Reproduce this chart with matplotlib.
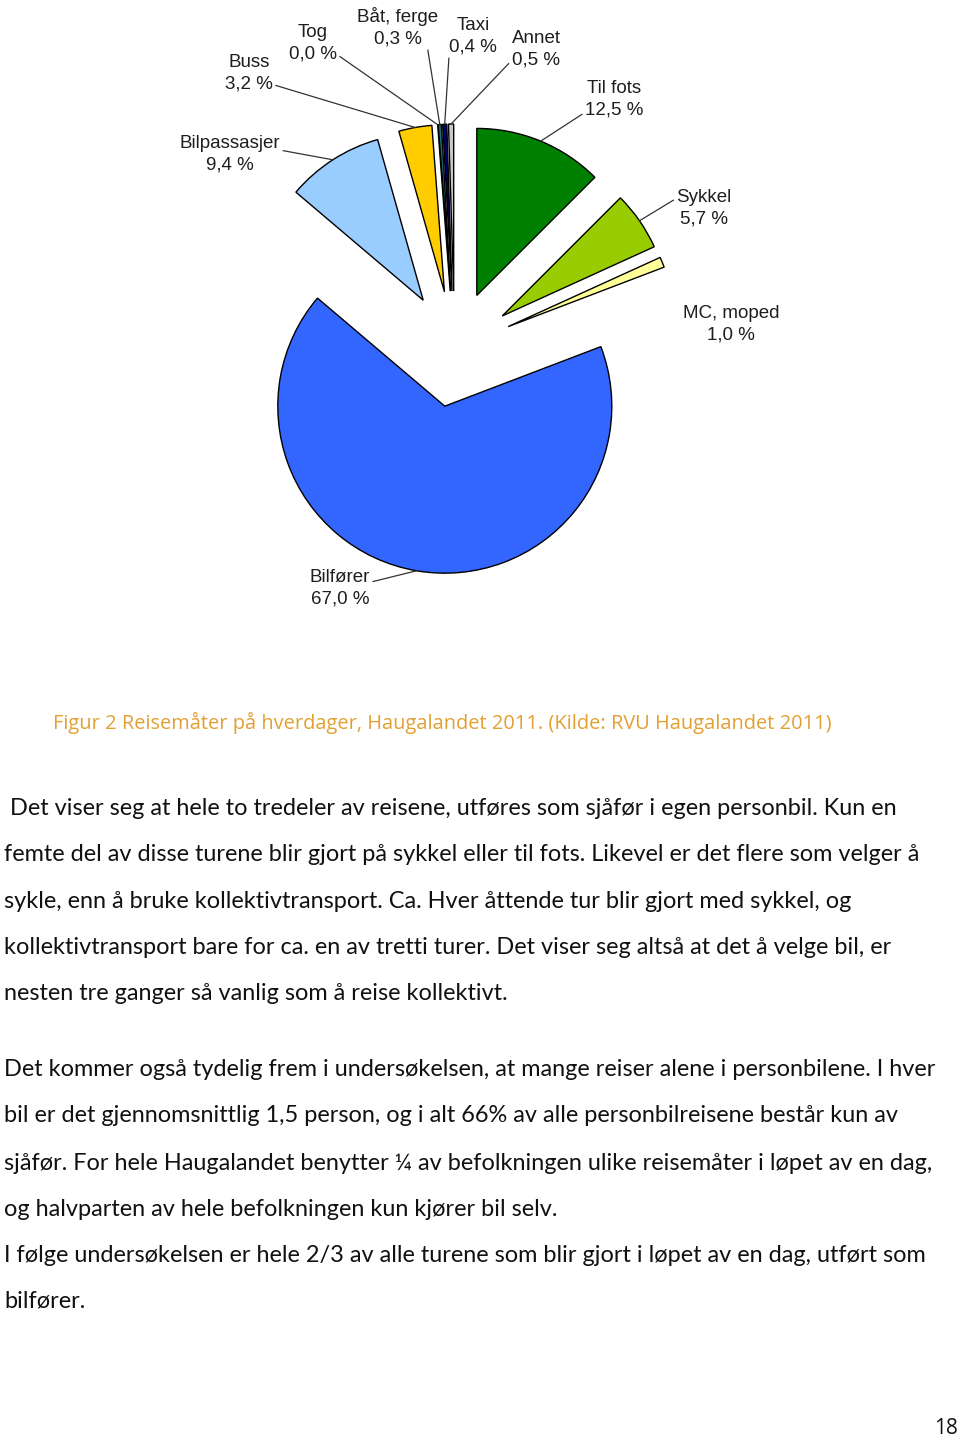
import numpy as np
import matplotlib.pyplot as plt

W, H = 960, 1438

modes = ['Annet', 'Taxi', 'Båt, ferge', 'Tog', 'Buss', 'Bilpassasjer',
         'Bilfører', 'MC, moped', 'Sykkel', 'Til fots']
shares = [0.5, 0.4, 0.3, 0.0, 3.2, 9.4, 67.0, 1.0, 5.7, 12.5]
colors = ['#c8c8c8', '#000066', '#1f6f6f', '#339999', '#ffcc00', '#99ccff',
          '#3366ff', '#ffff99', '#99cc00', '#008000']

# label centre (image px) and where the leader leaves the label box
label_pos = {
    'Annet': (536, 49), 'Taxi': (473, 36), 'Båt, ferge': (398, 27),
    'Tog': (313, 43), 'Buss': (249, 73), 'Bilpassasjer': (230, 154),
    'Bilfører': (340, 588), 'MC, moped': (731, 324), 'Sykkel': (704, 208),
    'Til fots': (614, 99),
}
leader_rel = {
    'Annet': (0, 0.2), 'Taxi': (0, 0.0), 'Båt, ferge': (0.85, 0.15),
    'Tog': (1, 0.2), 'Buss': (1, 0.2), 'Bilpassasjer': (1, 0.6),
    'Bilfører': (1, 0.65), 'MC, moped': None, 'Sykkel': (0, 0.75),
    'Til fots': (0, 0.15),
}

caption = 'Figur 2 Reisemåter på hverdager, Haugalandet 2011. (Kilde: RVU Haugalandet 2011)'
body = [
    ' Det viser seg at hele to tredeler av reisene, utføres som sjåfør i egen personbil. Kun en',
    'femte del av disse turene blir gjort på sykkel eller til fots. Likevel er det flere som velger å',
    'sykle, enn å bruke kollektivtransport. Ca. Hver åttende tur blir gjort med sykkel, og',
    'kollektivtransport bare for ca. en av tretti turer. Det viser seg altså at det å velge bil, er',
    'nesten tre ganger så vanlig som å reise kollektivt.',
    'Det kommer også tydelig frem i undersøkelsen, at mange reiser alene i personbilene. I hver',
    'bil er det gjennomsnittlig 1,5 person, og i alt 66% av alle personbilreisene består kun av',
    'sjåfør. For hele Haugalandet benytter ¼ av befolkningen ulike reisemåter i løpet av en dag,',
    'og halvparten av hele befolkningen kun kjører bil selv.',
    'I følge undersøkelsen er hele 2/3 av alle turene som blir gjort i løpet av en dag, utført som',
    'bilfører.',
]
body_y = [808, 855, 901, 947, 994, 1070, 1116, 1163, 1209, 1255, 1301]

fig = plt.figure(figsize=(W / 100, H / 100), dpi=100)
ax = fig.add_axes([0, 0, 1, 1])

cx, cy = 454.6, H - 349
radius = 167
expl = 58

wedges, _ = ax.pie(shares, colors=colors, startangle=90, counterclock=True,
                   radius=radius, center=(cx, cy), explode=[expl] * len(shares),
                   wedgeprops=dict(edgecolor='black', linewidth=1.0))
ax.set_xlim(0, W)
ax.set_ylim(0, H)
ax.set_aspect('equal')
ax.axis('off')

for w, name, val in zip(wedges, modes, shares):
    mid = np.deg2rad((w.theta1 + w.theta2) / 2)
    wx, wy = w.center
    tip = (wx + radius * np.cos(mid), wy + radius * np.sin(mid))
    lx, ly = label_pos[name]
    txt = f'{name}\n{val:.1f} %'.replace('.', ',')
    rel = leader_rel[name]
    props = None
    if rel is not None:
        props = dict(arrowstyle='-', color='#333333', lw=0.9, relpos=rel,
                     shrinkA=0, shrinkB=0)
    ax.annotate(txt, xy=tip, xytext=(lx, H - ly), ha='center', va='center',
                fontsize=13.5, family='Liberation Sans', color='#1e1e1e',
                linespacing=1.35, arrowprops=props)

fig.text(53 / W, 1 - 723 / H, caption, ha='left', va='center',
         fontsize=14.4, family='Open Sans', color='#e2a033')

for line, y in zip(body, body_y):
    fig.text(4 / W, 1 - y / H, line, ha='left', va='center',
             fontsize=16.9, family='Lato', color='#111111')

fig.text(958 / W, 1 - 1428 / H, '18', ha='right', va='center',
         fontsize=15, family='Open Sans', color='#111111')

fig.savefig('out.png', dpi=100)
